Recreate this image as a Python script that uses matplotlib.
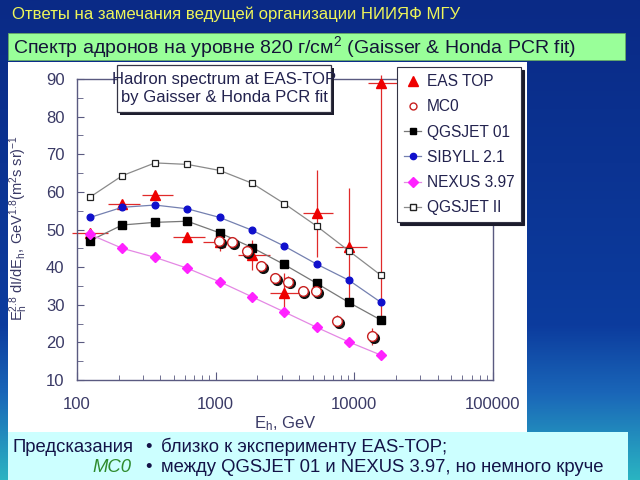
import numpy as np
import matplotlib
matplotlib.use("Agg")
import matplotlib.pyplot as plt
import matplotlib.transforms as mtransforms
from matplotlib.patches import Rectangle
from matplotlib.lines import Line2D
from matplotlib.colors import LinearSegmentedColormap
from matplotlib.ticker import MultipleLocator, FuncFormatter, NullFormatter

plt.rcParams['font.family'] = ['Liberation Sans', 'DejaVu Sans']
plt.rcParams['mathtext.fontset'] = 'custom'
plt.rcParams['mathtext.rm'] = 'Liberation Sans'
plt.rcParams['mathtext.it'] = 'Liberation Sans:italic'

# --- data ---
energy = [124, 212, 365, 625, 1070, 1830, 3120, 5350, 9150, 15600]
qgsjet01 = [47.0, 51.2, 51.9, 52.2, 49.1, 45.2, 40.7, 35.7, 30.6, 25.9]
sibyll = [53.2, 55.9, 56.5, 55.5, 53.2, 49.8, 45.6, 40.8, 36.5, 30.6]
nexus = [48.7, 45.0, 42.6, 39.7, 36.1, 32.1, 28.1, 24.0, 20.1, 16.6]
qgsjet2 = [58.6, 64.3, 67.7, 67.3, 65.7, 62.3, 56.9, 50.9, 44.3, 37.8]

eas_y = [49.0, 56.9, 59.1, 48.1, 46.7, 43.2, 33.2, 54.3, 45.4, 89.0]
eas_err_dn = [0.5, 0.8, 0.8, 1.0, 2.3, 4.0, 5.3, 11.5, 15.5, 63.1]
eas_err_up = [0.5, 0.8, 0.8, 1.0, 2.3, 4.0, 5.3, 11.5, 15.5, 2.0]
eas_lo = [92, 168, 292, 492, 810, 1450, 2460, 4250, 7240, 12500]
eas_hi = [167, 284, 494, 838, 1300, 2460, 4060, 7020, 12300, 20200]

mc0_x = [1057, 1320, 1670, 2120, 2680, 3340, 4240, 5290, 7530, 13400]
mc0_y = [46.9, 46.7, 44.3, 40.3, 37.0, 36.1, 33.6, 33.6, 25.6, 21.6]
mc0_err = [1.5, 1.2, 1.2, 1.2, 1.5, 1.5, 1.5, 1.5, 1.7, 2.2]

legend_labels = ['EAS TOP', 'MC0', 'QGSJET 01', 'SIBYLL 2.1', 'NEXUS 3.97', 'QGSJET II']

W, H = 640, 480
def fx(px):
    return px / W
def fy(py):
    return 1 - py / H

def box(x0, y0, x1, y1, **kw):
    r = Rectangle((fx(x0), fy(y1)), fx(x1) - fx(x0), fy(y0) - fy(y1),
                  transform=fig.transFigure, **kw)
    fig.add_artist(r)
    return r

fig = plt.figure(figsize=(6.4, 4.8), dpi=100)

# slide background
bg = fig.add_axes([0, 0, 1, 1], zorder=-10)
bg_cmap = LinearSegmentedColormap.from_list(
    'bg', [(0, '#0a2a86'), (0.68, '#0c3c9e'), (0.82, '#1a66b8'), (1, '#2ab4c2')])
bg.imshow(np.linspace(0, 1, 256).reshape(-1, 1), cmap=bg_cmap, aspect='auto',
          extent=[0, 1, 0, 1])
bg.axis('off')

box(8, 62, 527, 432, fc='white', ec='none', zorder=-5)
box(8, 33, 625, 60, fc='#99ff99', ec='#66aa66', lw=0.6, zorder=-5)
box(8, 432, 628, 480, fc='#ccffff', ec='none', zorder=-5)

fig.text(fx(12), fy(14), 'Ответы на замечания ведущей организации НИИЯФ МГУ',
         color='#eef55a', fontsize=12.1, va='center', ha='left')
fig.text(fx(13), fy(47), 'Спектр адронов на уровне 820 г/см$^2$ (Gaisser & Honda PCR fit)',
         color='#141438', fontsize=14, va='center', ha='left')

txt_c = '#141448'
fs_note = 13.3
fig.text(fx(12), fy(447), 'Предсказания', color=txt_c, fontsize=fs_note, va='center')
fig.text(fx(131), fy(467), 'MC0', color='#2e8b2e', fontsize=fs_note, va='center',
         ha='right', style='italic')
fig.text(fx(149), fy(447), '•', color=txt_c, fontsize=fs_note, va='center', ha='center')
fig.text(fx(149), fy(467), '•', color=txt_c, fontsize=fs_note, va='center', ha='center')
fig.text(fx(161), fy(447), 'близко к эксперименту EAS-TOP;', color=txt_c,
         fontsize=fs_note, va='center')
fig.text(fx(161), fy(467), 'между QGSJET 01 и NEXUS 3.97, но немного круче',
         color=txt_c, fontsize=fs_note, va='center')

# main plot
ax = fig.add_axes([fx(77), fy(380), fx(493) - fx(77), fy(79) - fy(380)])
ax.set_facecolor('white')

lo_err = np.array(energy) - np.array(eas_lo)
hi_err = np.array(eas_hi) - np.array(energy)
ax.errorbar(energy, eas_y, yerr=[eas_err_dn, eas_err_up], xerr=[lo_err, hi_err],
            fmt='none', ecolor='#e02a2a', elinewidth=0.9, capsize=0, zorder=2,
            clip_on=False)
ax.plot(energy, eas_y, ls='none', marker='^', ms=7.5, color='#ee0000',
        mec='#ee0000', zorder=3)

ax.plot(energy, qgsjet2, color='#8a8a8a', lw=0.9, marker='s', ms=5,
        mfc='white', mec='#222222', mew=0.9, zorder=4)
ax.plot(energy, sibyll, color='#7480b0', lw=0.9, marker='o', ms=4.8,
        mfc='#1010cc', mec='#1010cc', zorder=4)
ax.plot(energy, qgsjet01, color='#777777', lw=0.9, marker='s', ms=5.5,
        mfc='black', mec='black', zorder=4)
ax.plot(energy, nexus, color='#e488e4', lw=0.9, marker='D', ms=5.2,
        mfc='#ff22ff', mec='#ff22ff', zorder=4)

ax.errorbar(mc0_x, mc0_y, yerr=mc0_err, fmt='none', ecolor='#d03030',
            elinewidth=0.9, capsize=0, zorder=6)
shadow_tr = mtransforms.offset_copy(ax.transData, fig=fig, x=1.6, y=-1.6, units='dots')
ax.plot(mc0_x, mc0_y, ls='none', marker='o', ms=7, mfc='#111111', mec='#111111',
        transform=shadow_tr, zorder=6.5)
ax.plot(mc0_x, mc0_y, ls='none', marker='o', ms=7, mfc='white', mec='#c82020',
        mew=1.0, zorder=7)

ax.set_xscale('log')
ax.set_xlim(100, 100000)
ax.set_ylim(10, 90)
ax.yaxis.set_major_locator(MultipleLocator(10))
ax.yaxis.set_minor_locator(MultipleLocator(5))
ax.xaxis.set_major_formatter(FuncFormatter(lambda v, p: f'{int(round(v))}'))
ax.xaxis.set_minor_formatter(NullFormatter())

spine_c = '#5a5a80'
for s in ax.spines.values():
    s.set_color(spine_c)
    s.set_linewidth(1.0)
ax.tick_params(which='both', direction='in', colors=spine_c, labelcolor='#3a3a66',
               labelsize=12)
ax.tick_params(axis='x', which='major', length=6, pad=12)
ax.tick_params(axis='x', which='minor', length=3.5)
ax.tick_params(axis='y', which='major', length=5, pad=9)
ax.tick_params(axis='y', which='minor', length=4)

ax.set_xlabel(r'E$_\mathregular{h}$, GeV', color='#3a3a66', fontsize=12, labelpad=2)
ax.set_ylabel(r'E$_\mathregular{h}^{\mathregular{2.8}}$ dI/dE$_\mathregular{h}$, '
              r'GeV$^{\mathregular{1.8}}$(m$^\mathregular{2}$s sr)$^{\mathregular{-1}}$',
              color='#3a3a66', fontsize=10.5)
ax.yaxis.set_label_coords((30 - 77) / 416, (380 - 228) / 301)

handles = [
    Line2D([], [], ls='none', marker='^', ms=7.5, color='#ee0000'),
    Line2D([], [], ls='none', marker='o', ms=5, mfc='white', mec='#c82020'),
    Line2D([], [], color='#777777', lw=0.9, marker='s', ms=5, mfc='black', mec='black'),
    Line2D([], [], color='#7480b0', lw=0.9, marker='o', ms=4.5, mfc='#1010cc', mec='#1010cc'),
    Line2D([], [], color='#e488e4', lw=0.9, marker='D', ms=5, mfc='#ff22ff', mec='#ff22ff'),
    Line2D([], [], color='#8a8a8a', lw=0.9, marker='s', ms=5, mfc='white', mec='#222222'),
]
leg = ax.legend(handles, legend_labels, loc='upper left',
                bbox_to_anchor=(fx(397), fy(67)), bbox_transform=fig.transFigure,
                fontsize=11.2, frameon=True, fancybox=False,
                shadow={'color': '#1c1c2c', 'alpha': 1.0},
                handlelength=1.1, handletextpad=0.35, labelspacing=0.66,
                borderpad=0.45, borderaxespad=0)
leg.get_frame().set_edgecolor('#333344')
leg.get_frame().set_linewidth(0.8)
for t in leg.get_texts():
    t.set_color('#22224e')

# title box on the plot
box(120, 68, 334, 115, fc='#1c1c2c', ec='none', zorder=2)
box(117, 65, 331, 112, fc='white', ec='#333344', lw=0.9, zorder=2.1)
fig.text(fx(224), fy(88.5), 'Hadron spectrum at EAS-TOP\nby Gaisser & Honda PCR fit',
         ha='center', va='center', fontsize=12, color='#22224e',
         linespacing=1.25, zorder=3)

fig.savefig('out.png', dpi=100)
